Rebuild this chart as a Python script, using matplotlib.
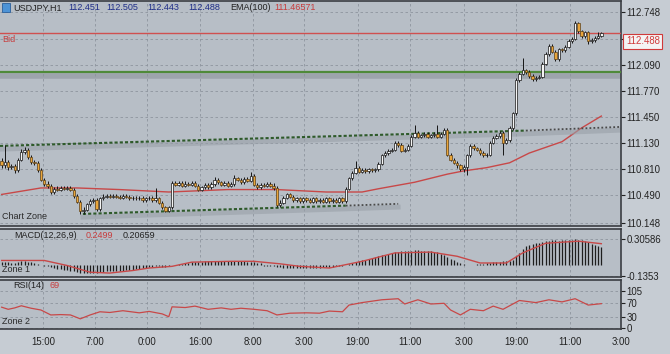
import numpy as np
import matplotlib.pyplot as plt
from matplotlib.patches import Rectangle

plt.rcParams['font.family'] = ['Liberation Sans', 'DejaVu Sans']

# USDJPY H1 bars (bar index = hour)
first_open = 110.91
closes = [110.86, 110.90, 110.84, 110.85, 110.80, 110.93, 111.02, 111.05, 110.96, 110.90,
          110.89, 110.80, 110.68, 110.63, 110.61, 110.53, 110.57, 110.56, 110.58, 110.57,
          110.58, 110.56, 110.48, 110.41, 110.29, 110.31, 110.38, 110.42, 110.43, 110.32,
          110.45, 110.47, 110.48, 110.47, 110.48, 110.47, 110.46, 110.48, 110.47, 110.45,
          110.46, 110.45, 110.46, 110.43, 110.45, 110.46, 110.43, 110.45, 110.40, 110.34,
          110.30, 110.34, 110.64, 110.62, 110.64, 110.61, 110.63, 110.62, 110.64, 110.61,
          110.56, 110.59, 110.62, 110.59, 110.63, 110.68, 110.65, 110.62, 110.64, 110.61,
          110.63, 110.70, 110.68, 110.65, 110.69, 110.67, 110.73, 110.62, 110.59, 110.62,
          110.61, 110.63, 110.61, 110.58, 110.37, 110.40, 110.46, 110.50, 110.47, 110.43,
          110.45, 110.42, 110.45, 110.43, 110.41, 110.45, 110.42, 110.43, 110.41, 110.45,
          110.42, 110.43, 110.41, 110.45, 110.42, 110.57, 110.70, 110.77, 110.83, 110.78,
          110.80, 110.79, 110.81, 110.80, 110.81, 110.88, 110.98, 111.01, 111.04, 111.05,
          111.14, 111.11, 111.04, 111.05, 111.10, 111.21, 111.26, 111.21, 111.23, 111.25,
          111.21, 111.23, 111.25, 111.21, 111.25, 111.30, 110.99, 110.93, 110.89, 110.86,
          110.81, 110.84, 110.98, 111.10, 111.07, 111.05, 111.01, 110.98, 110.99, 111.14,
          111.20, 111.22, 111.26, 111.14, 111.17, 111.32, 111.50, 111.91, 111.99, 112.03,
          112.01, 111.96, 111.92, 111.94, 111.95, 112.11, 112.23, 112.33, 112.26, 112.17,
          112.29, 112.28, 112.32, 112.39, 112.42, 112.61, 112.51, 112.45, 112.50, 112.39,
          112.40, 112.43, 112.45, 112.488]
highs = [110.95, 111.11, 110.93, 110.88, 110.87, 110.95, 111.06, 111.08, 111.07, 110.98,
         110.93, 110.91, 110.82, 110.70, 110.66, 110.63, 110.59, 110.60, 110.60, 110.60,
         110.61, 110.60, 110.58, 110.50, 110.43, 110.35, 110.40, 110.44, 110.46, 110.45,
         110.47, 110.50, 110.51, 110.50, 110.51, 110.50, 110.49, 110.50, 110.50, 110.49,
         110.48, 110.48, 110.48, 110.48, 110.47, 110.48, 110.48, 110.58, 110.47, 110.42,
         110.36, 110.36, 110.67, 110.66, 110.66, 110.66, 110.66, 110.65, 110.66, 110.66,
         110.63, 110.61, 110.64, 110.64, 110.65, 110.71, 110.70, 110.67, 110.66, 110.66,
         110.65, 110.74, 110.72, 110.70, 110.71, 110.71, 110.78, 110.75, 110.64, 110.64,
         110.64, 110.65, 110.65, 110.64, 110.60, 110.43, 110.48, 110.52, 110.52, 110.49,
         110.47, 110.47, 110.47, 110.47, 110.45, 110.47, 110.47, 110.45, 110.45, 110.47,
         110.47, 110.45, 110.45, 110.47, 110.47, 110.59, 110.72, 110.79, 110.91, 110.85,
         110.82, 110.82, 110.83, 110.83, 110.83, 110.90, 111.00, 111.03, 111.06, 111.07,
         111.16, 111.16, 111.13, 111.07, 111.12, 111.23, 111.36, 111.28, 111.25, 111.27,
         111.27, 111.25, 111.27, 111.36, 111.27, 111.32, 111.32, 111.01, 110.95, 110.91,
         110.88, 110.86, 111.00, 111.12, 111.12, 111.09, 111.07, 111.03, 111.01, 111.16,
         111.22, 111.24, 111.28, 111.28, 111.19, 111.34, 111.52, 111.93, 112.01, 112.18,
         112.05, 112.03, 111.98, 111.96, 111.97, 112.13, 112.25, 112.35, 112.35, 112.28,
         112.31, 112.31, 112.34, 112.41, 112.44, 112.64, 112.63, 112.53, 112.52, 112.52,
         112.43, 112.45, 112.50, 112.505]
lows = [110.83, 110.83, 110.80, 110.81, 110.77, 110.78, 110.91, 111.00, 110.94, 110.88,
        110.86, 110.78, 110.66, 110.60, 110.58, 110.51, 110.51, 110.54, 110.54, 110.55,
        110.55, 110.54, 110.46, 110.39, 110.26, 110.26, 110.29, 110.36, 110.40, 110.30,
        110.30, 110.43, 110.45, 110.45, 110.45, 110.45, 110.44, 110.44, 110.45, 110.43,
        110.43, 110.43, 110.43, 110.41, 110.41, 110.43, 110.41, 110.41, 110.38, 110.32,
        110.28, 110.28, 110.32, 110.60, 110.60, 110.59, 110.59, 110.60, 110.60, 110.59,
        110.54, 110.54, 110.57, 110.57, 110.57, 110.61, 110.63, 110.60, 110.60, 110.59,
        110.59, 110.61, 110.66, 110.63, 110.63, 110.65, 110.65, 110.60, 110.57, 110.57,
        110.59, 110.59, 110.59, 110.56, 110.35, 110.35, 110.38, 110.44, 110.45, 110.41,
        110.41, 110.40, 110.40, 110.41, 110.39, 110.39, 110.40, 110.40, 110.39, 110.39,
        110.40, 110.40, 110.39, 110.39, 110.40, 110.40, 110.55, 110.68, 110.75, 110.76,
        110.76, 110.77, 110.77, 110.78, 110.78, 110.79, 110.86, 110.96, 110.99, 111.02,
        111.03, 111.09, 111.02, 111.02, 111.03, 111.08, 111.19, 111.19, 111.19, 111.21,
        111.19, 111.19, 111.21, 111.19, 111.19, 111.23, 110.97, 110.91, 110.87, 110.83,
        110.79, 110.78, 110.74, 110.96, 111.05, 111.03, 110.99, 110.96, 110.96, 110.97,
        111.12, 111.18, 111.20, 110.99, 111.12, 111.15, 111.30, 111.48, 111.89, 111.97,
        111.99, 111.94, 111.90, 111.90, 111.92, 111.93, 112.09, 112.21, 112.24, 112.15,
        112.15, 112.26, 112.26, 112.30, 112.37, 112.40, 112.49, 112.43, 112.43, 112.36,
        112.37, 112.38, 112.41, 112.443]

ema_bars = [0, 12, 23, 36, 51, 69, 84, 99, 110, 115, 126, 136, 141, 148, 155, 161, 171, 177, 183]
ema_vals = [110.50, 110.58, 110.58, 110.56, 110.53, 110.56, 110.56, 110.53, 110.53, 110.57,
            110.65, 110.75, 110.79, 110.83, 110.89, 111.01, 111.15, 111.32, 111.466]

macd_hist = [0.03, 0.03, 0.03, 0.02, 0.02, 0.03, 0.04, 0.04, 0.03, 0.03, 0.02, 0.01, 0.0,
             -0.01, -0.02, -0.03, -0.04, -0.05, -0.05, -0.06, -0.06, -0.07, -0.08, -0.09, -0.10,
             -0.10, -0.10, -0.10, -0.10,
             -0.10, -0.09, -0.09, -0.08, -0.08, -0.08, -0.07, -0.07, -0.07, -0.06, -0.06, -0.06,
             -0.05, -0.05, -0.04, -0.04,
             -0.03, -0.03, -0.02, -0.02, -0.03, -0.03, -0.02, 0.0, 0.0, 0.01, 0.01, 0.02,
             0.02, 0.03, 0.03, 0.03, 0.03, 0.04, 0.04, 0.04, 0.04, 0.04, 0.04, 0.04, 0.04, 0.04,
             0.04, 0.04, 0.04, 0.04, 0.03, 0.03, 0.03, 0.02, 0.02,
             -0.01, -0.01, -0.02, -0.02, -0.03, -0.03, -0.04, -0.04, -0.04, -0.04, -0.04, -0.04,
             -0.04, -0.04, -0.04, -0.04, -0.04, -0.04, -0.03, -0.03, -0.03, -0.03, -0.02, -0.02,
             -0.01, 0.0, 0.01,
             0.02, 0.03, 0.04, 0.05, 0.06, 0.07, 0.08, 0.09, 0.10, 0.11, 0.12, 0.13, 0.14, 0.15,
             0.15, 0.16, 0.16, 0.16, 0.16, 0.17, 0.17, 0.16, 0.16, 0.16, 0.16, 0.15, 0.15,
             0.13, 0.11, 0.09, 0.07, 0.05, 0.03,
             0.02, 0.01, 0.0, 0.0, 0.0, 0.01, 0.01, 0.01, 0.02,
             0.02, 0.03, 0.03, 0.03, 0.04, 0.04, 0.04, 0.05,
             0.10, 0.14, 0.19, 0.22, 0.24, 0.25, 0.26, 0.26, 0.27, 0.28, 0.28, 0.29, 0.29, 0.28,
             0.29, 0.29, 0.29, 0.29, 0.30, 0.29, 0.29, 0.28, 0.27, 0.25, 0.24, 0.22, 0.207]
signal_bars = [0, 13, 20, 27, 33, 40, 45, 52, 58, 70, 77, 85, 91, 100, 110, 120, 131, 139,
               146, 154, 159, 166, 176, 183]
signal_vals = [0.05, 0.05, -0.01, -0.09, -0.10, -0.07, -0.04, -0.02, 0.03, 0.04, 0.04, 0.01,
               -0.02, -0.04, 0.04, 0.14, 0.15, 0.10, 0.02, 0.02, 0.14, 0.255, 0.28, 0.25]

rsi_bars = [0, 2, 4, 6, 9, 12, 15, 18, 21, 24, 27, 30, 33, 37, 42, 45, 49, 51, 52, 56, 59,
            63, 67, 70, 73, 77, 81, 84, 88, 93, 97, 100, 104, 106, 110, 116, 121, 123, 127,
            131, 135, 137, 140, 143, 147, 150, 153, 158, 163, 167, 171, 175, 179, 183]
rsi_vals = [59, 53, 57, 63, 56, 51, 37, 38, 37, 26, 37, 46, 44, 49, 43, 47, 40, 32, 60, 58, 62,
            53, 57, 53, 56, 53, 49, 37, 42, 43, 42, 48, 46, 65, 72, 80, 83, 68, 80,
            68, 70, 51, 37, 53, 49, 62, 53, 78, 72, 80, 74, 83, 65, 69]

tick_bars = [12.7, 28.5, 44.3, 60.5, 76.7, 92.2, 108.7, 124.6, 141, 157, 173.4, 189]
tick_labels = ['15:00', '7:00', '0:00', '16:00', '8:00', '3:00', '19:00', '11:00', '3:00',
               '19:00', '11:00', '3:00']
price_ticks = [110.148, 110.490, 110.810, 111.130, 111.450, 111.770, 112.090, 112.748]
macd_ticks = [-0.1353, 0.30586]
rsi_ticks = [0, 30, 70, 105]

bid = 112.488
support = 112.01
upper_bars, upper_vals = [-0.5, 160, 188.7], [111.098, 111.287, 111.332]
lower_bars, lower_vals = [24.8, 105, 121], [110.26, 110.362, 110.384]

W, H = 670, 354
bg = '#c6ccd3'
panel = '#b7bec6'
grid_c = '#8e959e'
dark = '#3a3d42'
tfs = 6.9   # axis tick font
fs = 6.5    # header font


def fx(x, y):
    return x / W, 1 - y / H


fig = plt.figure(figsize=(6.7, 3.54), dpi=100, facecolor=bg)
ax = fig.add_axes([0, 1 - 226 / H, 621 / W, 225 / H])
ax2 = fig.add_axes([0, 1 - 277 / H, 621 / W, 48 / H])
ax3 = fig.add_axes([0, 1 - 329 / H, 621 / W, 49 / H])

for a in (ax, ax2, ax3):
    a.set_facecolor(panel)
    a.set_xlim(-0.5, 189)
    a.yaxis.tick_right()
    a.tick_params(axis='y', labelsize=tfs, length=3, pad=1, colors='#222222', width=0.8)
    a.tick_params(axis='x', length=0)
    a.set_xticks(tick_bars)
    a.set_xticklabels([])
    a.grid(True, color=grid_c, ls=(0, (3, 3)), lw=0.6)
    a.set_axisbelow(True)
    a.spines['left'].set_visible(False)
    for s in ('top', 'bottom', 'right'):
        a.spines[s].set_color(dark)
        a.spines[s].set_linewidth(1.2)

# --- price panel ---
closes = np.array(closes)
opens = np.r_[first_open, closes[:-1]]
xb = np.arange(len(closes))
up = closes >= opens
ax.set_ylim(110.111, 112.884)
ax.set_yticks(price_ticks + [112.41])
ax.set_yticklabels(['%.3f' % p for p in price_ticks] + [''])

ax.plot(ema_bars, ema_vals, color='#c84848', lw=1.0, zorder=2)
ax.axhline(support - 0.045, color='#8d949c', lw=4, alpha=0.6, zorder=2)
ax.axhline(support, color='#4f8a3a', lw=1.6, zorder=3)
ax.axhline(bid, color='#d05050', lw=1.0, zorder=3)
ax.plot(upper_bars, np.array(upper_vals) - 0.04, color='#99a0a8', lw=3.5, alpha=0.6, zorder=2)
ax.plot(upper_bars[:2], upper_vals[:2], color='#2e5a2a', lw=1.5, ls=(0, (1.5, 1)), zorder=3)
ax.plot(upper_bars[1:], upper_vals[1:], color='#4a4a4a', lw=1.3, ls=(0, (1, 1.2)), zorder=3)
ax.plot(lower_bars, np.array(lower_vals) - 0.04, color='#99a0a8', lw=3.5, alpha=0.6, zorder=2)
ax.plot(lower_bars[:2], lower_vals[:2], color='#2e5a2a', lw=1.5, ls=(0, (1.5, 1)), zorder=3)
ax.plot(lower_bars[1:], lower_vals[1:], color='#4a4a4a', lw=1.3, ls=(0, (1, 1.2)), zorder=3)

ax.vlines(xb, lows, highs, color='#151515', lw=0.7, zorder=4)
body = np.where(np.abs(closes - opens) < 0.008, 0.008, closes - opens)
ax.bar(xb[up], body[up], bottom=opens[up], width=0.72, color='#f4f4f4',
       edgecolor='#151515', lw=0.5, zorder=5)
ax.bar(xb[~up], body[~up], bottom=opens[~up], width=0.72, color='#e9a53a',
       edgecolor='#5c4018', lw=0.5, zorder=5)

ax.annotate('%.3f' % bid, xy=(1, bid), xycoords=('axes fraction', 'data'),
            xytext=(3.5, -6), textcoords='offset points', va='center', ha='left',
            fontsize=tfs, color='#d03a3a', annotation_clip=False,
            bbox=dict(boxstyle='square,pad=0.25', fc='#f4f4f4', ec='#d03a3a', lw=0.8))

# --- MACD panel ---
ax2.set_ylim(-0.147, 0.425)
ax2.set_yticks(macd_ticks)
ax2.set_yticklabels(['-0.1353', '0.30586'])
ax2.vlines(np.arange(len(macd_hist)), 0, macd_hist, color='#1e1e1e', lw=0.9, zorder=3)
ax2.plot(signal_bars, signal_vals, color='#c84848', lw=1.0, zorder=4)

# --- RSI panel ---
ax3.set_ylim(-2.8, 136)
ax3.set_yticks(rsi_ticks)
ax3.set_yticklabels([str(v) for v in rsi_ticks])
ax3.plot(rsi_bars, rsi_vals, color='#c84848', lw=0.9, zorder=3)
ax3.set_xticklabels(tick_labels)
ax3.tick_params(axis='x', labelsize=tfs, colors='#222222', pad=6)

# --- header / zone labels ---
fig.add_artist(Rectangle(fx(2, 12), 8 / W, 9 / H, transform=fig.transFigure,
                         fc='#4d93d6', ec='#2a5f9a', lw=0.6))
txt = [(13, 8, 'USDJPY,H1', '#222222'), (68, 8, '112.451', '#1f2e88'),
       (106, 8, '112.505', '#1f2e88'), (147, 8, '112.443', '#1f2e88'),
       (188, 8, '112.488', '#1f2e88'), (230, 8, 'EMA(100)', '#222222'),
       (274, 8, '111.46571', '#c83c3c'), (2, 40, 'Bid', '#c83c3c'),
       (2, 217, 'Chart Zone', '#2a2a2a'),
       (14, 235, 'MACD(12,26,9)', '#222222'), (86, 235, '0.2499', '#c83c3c'),
       (123, 235, '0.20659', '#222222'), (2, 270, 'Zone 1', '#2a2a2a'),
       (13, 286, 'RSI(14)', '#222222'), (50, 286, '69', '#c83c3c'),
       (2, 321, 'Zone 2', '#2a2a2a')]
for x0, y0, s, c in txt:
    fig.text(*fx(x0, y0), s, fontsize=fs, color=c, va='center', ha='left')

fig.savefig('out.png', dpi=100, facecolor=bg)
